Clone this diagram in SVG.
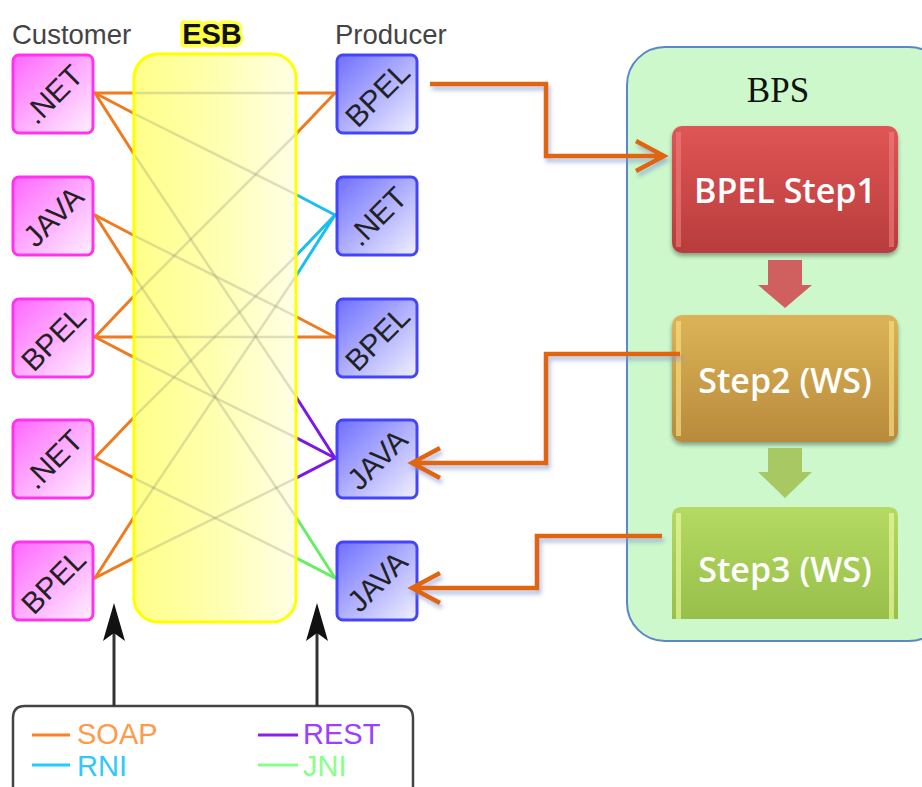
<svg xmlns="http://www.w3.org/2000/svg" width="922" height="787" viewBox="0 0 922 787">
<defs>
<linearGradient id="gC" x1="0" y1="0" x2="1" y2="1"><stop offset="0" stop-color="#ff66ff"/><stop offset="1" stop-color="#fff0ff"/></linearGradient>
<linearGradient id="gP" x1="0" y1="0" x2="1" y2="1"><stop offset="0" stop-color="#6f6fff"/><stop offset="1" stop-color="#f0f0ff"/></linearGradient>
<linearGradient id="gE" x1="0" y1="0" x2="1" y2="0"><stop offset="0" stop-color="#ffff88"/><stop offset="0.5" stop-color="#ffffb0"/><stop offset="1" stop-color="#ffffe6"/></linearGradient>
<linearGradient id="gR" x1="0" y1="0" x2="0" y2="1"><stop offset="0" stop-color="#e05555"/><stop offset="1" stop-color="#b83c3c"/></linearGradient>
<linearGradient id="gY" x1="0" y1="0" x2="0" y2="1"><stop offset="0" stop-color="#dcb457"/><stop offset="1" stop-color="#b88a3c"/></linearGradient>
<linearGradient id="gG" x1="0" y1="0" x2="0" y2="1"><stop offset="0" stop-color="#b4da62"/><stop offset="1" stop-color="#98bf4a"/></linearGradient>
<filter id="sh" x="-10%" y="-20%" width="130%" height="150%"><feDropShadow dx="2" dy="4" stdDeviation="2" flood-color="#7f95c8" flood-opacity="0.6"/></filter>
<filter id="bs" x="-10%" y="-10%" width="120%" height="130%"><feDropShadow dx="0" dy="3" stdDeviation="2" flood-color="#000" flood-opacity="0.35"/></filter>
</defs>
<style>
.lbl{font-family:"Liberation Sans",Arial,sans-serif;fill:#444;font-size:27.5px}
.bt{font-family:"Liberation Sans",Arial,sans-serif;fill:#222;font-size:30px;text-anchor:middle}
.cb{fill:url(#gC);stroke:#ff33ee;stroke-width:3}
.pb{fill:url(#gP);stroke:#4444ff;stroke-width:3}
.ln{stroke-width:3;fill:none;stroke-linecap:round}
.so{stroke:#f07b1e}
.rn{stroke:#18bff0}
.re{stroke:#7a18e8}
.jn{stroke:#66ee66}
.in{stroke:#8a8a70;stroke-opacity:0.28;stroke-width:2.5}
.oc{fill:none;stroke:#e0650e;stroke-width:4.5;filter:url(#sh)}
.st{font-family:"Open Sans","Liberation Sans",sans-serif;font-weight:600;font-size:34px;fill:#fff;text-anchor:middle}
.lg{font-family:"Liberation Sans",Arial,sans-serif;font-size:29px}
.ar{fill:#111}
</style>

<g id="connectors">
<g class="ln">
<line class="so" x1="95" y1="93" x2="134" y2="93"/>
<line class="so" x1="95" y1="93" x2="134" y2="113.5"/>
<line class="so" x1="95" y1="93" x2="134" y2="154.3"/>
<line class="so" x1="95" y1="215" x2="134" y2="235.5"/>
<line class="so" x1="95" y1="215" x2="134" y2="276"/>
<line class="so" x1="95" y1="337" x2="134" y2="296"/>
<line class="so" x1="95" y1="337" x2="134" y2="337"/>
<line class="so" x1="95" y1="337" x2="134" y2="357.3"/>
<line class="so" x1="95" y1="458" x2="134" y2="417.2"/>
<line class="so" x1="95" y1="458" x2="134" y2="478.2"/>
<line class="so" x1="95" y1="578" x2="134" y2="517"/>
<line class="so" x1="95" y1="578" x2="134" y2="557.8"/>
<line class="so" x1="296" y1="93" x2="335" y2="93"/>
<line class="rn" x1="296" y1="194.5" x2="335" y2="215"/>
<line class="re" x1="296" y1="396.7" x2="335" y2="458"/>
<line class="so" x1="296" y1="316.5" x2="335" y2="337"/>
<line class="jn" x1="296" y1="517" x2="335" y2="578"/>
<line class="so" x1="296" y1="134" x2="335" y2="93"/>
<line class="so" x1="296" y1="337" x2="335" y2="337"/>
<line class="re" x1="296" y1="437.7" x2="335" y2="458"/>
<line class="rn" x1="296" y1="255.8" x2="335" y2="215"/>
<line class="jn" x1="296" y1="557.8" x2="335" y2="578"/>
<line class="rn" x1="296" y1="276" x2="335" y2="215"/>
<line class="re" x1="296" y1="478.2" x2="335" y2="458"/>
</g>
</g>

<g id="esb">
<rect x="134" y="54" width="162" height="568" rx="24" fill="url(#gE)"/>
<g class="ln in">
<line x1="134" y1="93" x2="296" y2="93"/>
<line x1="134" y1="113.5" x2="296" y2="194.5"/>
<line x1="134" y1="154.3" x2="296" y2="396.7"/>
<line x1="134" y1="235.5" x2="296" y2="316.5"/>
<line x1="134" y1="276" x2="296" y2="517"/>
<line x1="134" y1="296" x2="296" y2="134"/>
<line x1="134" y1="337" x2="296" y2="337"/>
<line x1="134" y1="357.3" x2="296" y2="437.7"/>
<line x1="134" y1="417.2" x2="296" y2="255.8"/>
<line x1="134" y1="478.2" x2="296" y2="557.8"/>
<line x1="134" y1="517" x2="296" y2="276"/>
<line x1="134" y1="557.8" x2="296" y2="478.2"/>
</g>
<rect x="134" y="54" width="162" height="568" rx="24" fill="none" stroke="#ffff00" stroke-width="3"/>
<text x="212" y="44" text-anchor="middle" font-family="Liberation Sans,Arial,sans-serif" font-weight="bold" font-size="29" fill="#111" stroke="#ffff44" stroke-width="7" stroke-linejoin="round" paint-order="stroke">ESB</text>
</g>

<text class="lbl" x="12" y="44">Customer</text>
<text class="lbl" x="335" y="44">Producer</text>

<g id="c1"><rect class="cb" x="13" y="55" width="80" height="78" rx="6"/><text class="bt" transform="translate(53,94) rotate(-45)" y="11">.NET</text></g>
<g id="c2"><rect class="cb" x="13" y="177" width="80" height="78" rx="6"/><text class="bt" transform="translate(53,216) rotate(-45)" y="11">JAVA</text></g>
<g id="c3"><rect class="cb" x="13" y="299" width="80" height="78" rx="6"/><text class="bt" transform="translate(53,338) rotate(-45)" y="11">BPEL</text></g>
<g id="c4"><rect class="cb" x="13" y="420" width="80" height="78" rx="6"/><text class="bt" transform="translate(53,459) rotate(-45)" y="11">.NET</text></g>
<g id="c5"><rect class="cb" x="13" y="542" width="80" height="78" rx="6"/><text class="bt" transform="translate(53,581) rotate(-45)" y="11">BPEL</text></g>

<g id="p1"><rect class="pb" x="337" y="55" width="80" height="78" rx="6"/><text class="bt" transform="translate(377,94) rotate(-45)" y="11">BPEL</text></g>
<g id="p2"><rect class="pb" x="337" y="177" width="80" height="78" rx="6"/><text class="bt" transform="translate(377,216) rotate(-45)" y="11">.NET</text></g>
<g id="p3"><rect class="pb" x="337" y="299" width="80" height="78" rx="6"/><text class="bt" transform="translate(377,338) rotate(-45)" y="11">BPEL</text></g>
<g id="p4"><rect class="pb" x="337" y="420" width="80" height="78" rx="6"/><text class="bt" transform="translate(377,459) rotate(-45)" y="11">JAVA</text></g>
<g id="p5"><rect class="pb" x="337" y="542" width="80" height="78" rx="6"/><text class="bt" transform="translate(377,581) rotate(-45)" y="11">JAVA</text></g>

<g id="legend">
<path d="M13,787 L13,718 Q13,706 25,706 L401,706 Q413,706 413,718 L413,787" fill="#fff" stroke="#444" stroke-width="2.5"/>
<line x1="114" y1="706" x2="114" y2="625" stroke="#333" stroke-width="3"/>
<path class="ar" d="M114,603 L125,641 L114,633 L103,641 Z"/>
<line x1="317" y1="706" x2="317" y2="625" stroke="#333" stroke-width="3"/>
<path class="ar" d="M317,603 L328,641 L317,633 L306,641 Z"/>
<line x1="32" y1="735" x2="70" y2="735" stroke="#ff8022" stroke-width="3"/>
<text class="lg" x="77" y="744" fill="#ff9a4a">SOAP</text>
<line x1="32" y1="765" x2="70" y2="765" stroke="#22ccff" stroke-width="3"/>
<text class="lg" x="77" y="776" fill="#30c8ff">RNI</text>
<line x1="258" y1="735" x2="298" y2="735" stroke="#8a20f0" stroke-width="3"/>
<text class="lg" x="303" y="744" fill="#9a40ff">REST</text>
<line x1="258" y1="765" x2="298" y2="765" stroke="#88ff88" stroke-width="3"/>
<text class="lg" x="303" y="776" fill="#88ff88">JNI</text>
</g>

<g id="bps">
<rect x="627" y="47" width="320" height="594" rx="38" fill="#ccf8cc" stroke="#5a87c8" stroke-width="2"/>
<text x="778" y="102" text-anchor="middle" font-family="Liberation Serif,Times New Roman,serif" font-size="35" fill="#111">BPS</text>
</g>
<g id="step1"><rect x="672" y="126" width="226" height="127" rx="10" fill="url(#gR)" filter="url(#bs)"/><rect x="676" y="132" width="5" height="115" fill="#f08080" opacity="0.6"/><rect x="889" y="132" width="5" height="115" fill="#f08080" opacity="0.6"/><text class="st" x="785" y="203">BPEL Step1</text></g>
<path d="M768,260 L802,260 L802,285 L812,285 L785,308 L758,285 L768,285 Z" fill="#d06060"/>
<g id="step2"><rect x="672" y="315" width="226" height="127" rx="10" fill="url(#gY)" filter="url(#bs)"/><rect x="676" y="321" width="5" height="115" fill="#f6dc80" opacity="0.7"/><rect x="889" y="321" width="5" height="115" fill="#f6dc80" opacity="0.7"/><text class="st" x="785" y="393">Step2 (WS)</text></g>
<path d="M768,448 L802,448 L802,472 L812,472 L785,498 L758,472 L768,472 Z" fill="#a8c864"/>
<g id="step3"><path d="M672,619 L672,517 Q672,507 682,507 L888,507 Q898,507 898,517 L898,619 Z" fill="url(#gG)"/><rect x="676" y="513" width="5" height="106" fill="#e8f8a0" opacity="0.7"/><rect x="889" y="513" width="5" height="106" fill="#e8f8a0" opacity="0.7"/><text class="st" x="785" y="582">Step3 (WS)</text></g>

<g id="flow">
<path class="oc" d="M430,84 L546,84 L546,156 L664,156 M636,141 L664,156 L636,171"/>
<path class="oc" d="M680,354 L546,354 L546,463 L412,463 M440,448 L412,463 L440,478"/>
<path class="oc" d="M662,536 L537,536 L537,588 L412,588 M440,573 L412,588 L440,603"/>
</g>
</svg>
